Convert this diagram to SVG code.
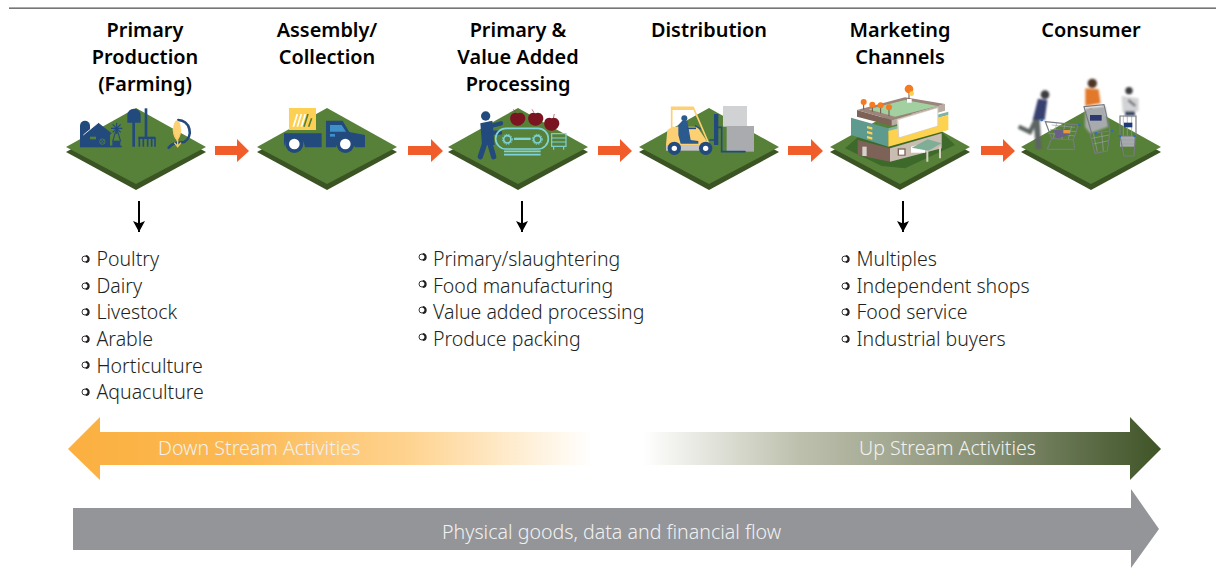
<svg xmlns="http://www.w3.org/2000/svg" width="1216" height="568" viewBox="0 0 1216 568">
<style>
text{font-family:"Noto Sans","Open Sans","Liberation Sans",sans-serif}
.t{font-size:19.900px;font-weight:600;fill:#000;text-anchor:middle}
.l{font-size:19.500px;font-weight:300;fill:#231f20}
.w{font-size:19.600px;font-weight:300;fill:#f1f1f1}
.b{fill:none;stroke:#231f20;stroke-width:.9}
.n{fill:#234a7d}
.ns{fill:none;stroke:#234a7d;stroke-linecap:round}
.c{fill:none;stroke:#7fd3da}
.cart{fill:none;stroke:#777b80;stroke-width:3.500}
.grid{fill:none;stroke:#9a9ea3;stroke-width:2}
</style>
<defs>
<g id="plate"><polygon points="0,5 70,43 140,5 70,-33" fill="#3a5424"/><polygon points="0,0 70,-39 140,0 70,37" fill="#578138"/></g>
<g id="bul"><circle r="3" class="b"/><path d="M.8,-3A3,3 0 0 1 .8,3" fill="none" stroke="#231f20" stroke-width="1.800"/></g>
<marker id="ah" markerUnits="userSpaceOnUse" markerWidth="14" markerHeight="14" refX="11" refY="6.500" orient="auto"><path d="M0,0.500L11,6.500L0,12.500L2.500,6.500Z" fill="#000"/></marker>
<linearGradient id="gd" x1="0" x2="1" y1="0" y2="0"><stop offset="0" stop-color="#fbb040"/><stop offset=".3" stop-color="#fcb851"/><stop offset=".65" stop-color="#fed38f"/><stop offset="1" stop-color="#fff"/></linearGradient>
<linearGradient id="gu" x1="0" x2="1" y1="0" y2="0"><stop offset="0" stop-color="#fff"/><stop offset=".3" stop-color="#bdc0ad"/><stop offset=".65" stop-color="#8a9277"/><stop offset="1" stop-color="#3f5427"/></linearGradient>
<filter id="blur" x="-20%" y="-20%" width="140%" height="140%"><feGaussianBlur stdDeviation="2.500"/></filter>
</defs>
<rect width="1216" height="568" fill="#fff"/>
<rect x="9" y="7.500" width="1207" height="1.300" fill="#555"/>

<g id="band-flow">
<polygon points="73,508 1131,508 1131,489 1159,529 1131,568 1131,550 73,550" fill="#939598"/>
<text class="w" x="442" y="539">Physical goods, data and financial flow</text>
</g>
<g id="band-down">
<polygon points="592,432 100,432 100,417 68,449 100,480 100,465 592,465" fill="url(#gd)"/>
<text class="w" x="158" y="455">Down Stream Activities</text>
</g>
<g id="band-up">
<polygon points="643,432 1130,432 1130,417 1161,449 1130,480 1130,465 643,465" fill="url(#gu)"/>
<text class="w" x="859" y="455">Up Stream Activities</text>
</g>

<g id="connectors">
<g fill="#f15d2a">
<polygon points="215,146 237,146 237,139 249,151 237,162 237,155 215,155"/>
<polygon points="408,146 431,146 431,139 443,151 431,162 431,155 408,155"/>
<polygon points="598,146 620,146 620,139 632,151 620,162 620,155 598,155"/>
<polygon points="788,146 811,146 811,139 823,151 811,162 811,155 788,155"/>
<polygon points="981,146 1003,146 1003,139 1015,151 1003,162 1003,155 981,155"/>
</g>
<g stroke="#000" stroke-width="2" marker-end="url(#ah)">
<path d="M139,201V232"/><path d="M522,201V232"/><path d="M903,201V232"/>
</g>
</g>

<g id="node-farming">
<text class="t" x="145" y="37">Primary</text><text class="t" x="145" y="64">Production</text><text class="t" x="145" y="91">(Farming)</text>
<use href="#plate" x="66" y="147"/>
<g transform="translate(75,100) scale(.3333)">
<path class="n" d="M15,140V77A15,15 0 0 1 45,77V140Z"/>
<polygon points="25,105 70,68 110,100 105,105 105,140 38,140 38,105" class="n"/>
<path d="M25,105L70,68" stroke="#fff" stroke-width="2.500"/>
<rect x="45" y="110" width="18" height="8" fill="#578138"/>
<circle cx="82" cy="125" r="8" fill="none" stroke="#578138" stroke-width="2.500"/><path d="M76,119L88,131M88,119L76,131" stroke="#578138" stroke-width="2"/>
<rect x="15" y="137" width="125" height="5" class="n"/>
<g stroke="#234a7d" stroke-width="3.500"><path d="M125,68V102M108,85H142M113,73L137,97M137,73L113,97"/><path d="M125,85L113,124M125,85L137,124" fill="none"/></g>
<rect x="112" y="122" width="24" height="18" class="n"/>
<path class="n" d="M157,68V46A20,20 0 0 1 197,46V68H180V140H172V68Z"/>
<rect x="209" y="25" width="8" height="90" class="n"/><rect x="190" y="110" width="50" height="7" class="n"/>
<path d="M193,112V140M205,112V140M218,112V140M230,112V140M240,112V140" stroke="#234a7d" stroke-width="5"/>
<path class="ns" stroke-width="8" d="M310,60A36,36 0 0 1 328,126C312,130 300,122 281,143"/>
<ellipse cx="306" cy="90" rx="12" ry="29" fill="#fdd073"/>
<path d="M290,82C296,96 300,105 306,118C312,105 318,96 322,82L315,105L306,125L297,105Z" fill="#fdc55a"/>
<path d="M308,118V142M298,128L308,140L318,128" stroke="#fdc55a" stroke-width="4" fill="none"/>
</g>
<use href="#bul" x="85" y="259"/><text class="l" x="96.500" y="266">Poultry</text>
<use href="#bul" x="85" y="286"/><text class="l" x="96.500" y="293">Dairy</text>
<use href="#bul" x="85" y="312"/><text class="l" x="96.500" y="319">Livestock</text>
<use href="#bul" x="85" y="339"/><text class="l" x="96.500" y="346">Arable</text>
<use href="#bul" x="85" y="365"/><text class="l" x="96.500" y="373">Horticulture</text>
<use href="#bul" x="85" y="392"/><text class="l" x="96.500" y="399">Aquaculture</text>
</g>

<g id="node-assembly">
<text class="t" x="327" y="37">Assembly/</text><text class="t" x="327" y="64">Collection</text>
<use href="#plate" x="257" y="147"/>
<g transform="translate(60,90) scale(.3333)">
<rect x="687" y="54" width="81" height="66" fill="#fdd053"/>
<g stroke="#fff" stroke-width="5"><path d="M700,110L712,72M712,110L724,72M724,110L736,72"/></g>
<g stroke="#578138" stroke-width="5"><path d="M732,110L744,72M746,110L755,85"/></g>
<path class="n" d="M672,130H785V172H735A30,30 0 0 0 672,172Z"/>
<path class="n" d="M798,92H848L868,126L915,135V172H885A30,30 0 0 0 827,172H798Z"/>
<polygon points="810,105 845,105 858,125 810,125" fill="#3f8fc9"/><rect x="810" y="132" width="15" height="8" fill="#3f8fc9"/>
<circle cx="703" cy="162" r="27" class="n"/><circle cx="703" cy="162" r="16" fill="#fff"/>
<circle cx="856" cy="162" r="27" class="n"/><circle cx="856" cy="162" r="16" fill="#fff"/>
</g>
</g>

<g id="node-processing">
<text class="t" x="518" y="37">Primary &amp;</text><text class="t" x="518" y="64">Value Added</text><text class="t" x="518" y="91">Processing</text>
<use href="#plate" x="448" y="147"/>
<g transform="translate(400,90) scale(.3333)">
<circle cx="257" cy="78" r="14" class="n"/>
<polygon points="241,100 277,92 284,165 246,165" class="n"/>
<path class="ns" stroke-width="13" d="M272,108L303,100M272,128L300,128"/>
<path class="ns" stroke-width="16" d="M256,155L241,200M268,155L281,200"/>
<rect x="287" y="115" width="158" height="62" rx="31" class="c" stroke-width="5"/>
<g class="c" stroke-width="5"><circle cx="322" cy="148" r="11"/><circle cx="412" cy="148" r="11"/></g>
<circle cx="322" cy="148" r="15" class="c" stroke-width="3" stroke-dasharray="4 4"/><circle cx="412" cy="148" r="15" class="c" stroke-width="3" stroke-dasharray="4 4"/>
<rect x="342" y="143" width="50" height="7" fill="#7fd3da"/>
<path d="M312,184H422M312,194H422" stroke="#7fd3da" stroke-width="5"/>
<g class="c" stroke-width="3.500"><rect x="455" y="131" width="43" height="38"/><path d="M455,144H498M455,156H498M461,169V179M491,169V179"/></g>
<g fill="#7a1420"><path d="M353,70C340,64 328,75 331,90C334,102 344,108 353,107C362,108 373,100 376,88C378,74 364,64 353,70Z"/><path d="M407,70C394,64 382,75 385,90C388,102 398,108 407,107C416,108 427,100 430,88C432,74 418,64 407,70Z"/><path d="M455,85C442,79 430,90 433,105C436,117 446,123 455,122C464,123 475,115 478,103C480,89 466,79 455,85Z"/></g>
<path d="M348,68L340,58M402,68L396,58M460,85L463,72" stroke="#a3343f" stroke-width="2" fill="none"/>
</g>
<use href="#bul" x="422" y="257"/><text class="l" x="433" y="266">Primary/slaughtering</text>
<use href="#bul" x="422" y="284"/><text class="l" x="433" y="293">Food manufacturing</text>
<use href="#bul" x="422" y="310"/><text class="l" x="433" y="319">Value added processing</text>
<use href="#bul" x="422" y="337"/><text class="l" x="433" y="346">Produce packing</text>
</g>

<g id="node-distribution">
<text class="t" x="709" y="37">Distribution</text>
<use href="#plate" x="639" y="147"/>
<g transform="translate(660,95) scale(.3333)">
<rect x="189" y="33" width="72" height="62" fill="#d1d2d4"/>
<rect x="200" y="93" width="82" height="77" fill="#a9abae"/>
<polygon points="18,150 22,105 37,95 112,95 148,150" fill="#fdd073"/>
<path d="M35,100V38H100L148,150" fill="none" stroke="#fdd073" stroke-width="5"/><rect x="33" y="35" width="67" height="10" fill="#fdd073"/>
<rect x="18" y="150" width="132" height="17" fill="#c4c5c7"/>
<polygon points="55,90 66,78 82,78 92,135 115,138 115,146 62,146 55,120" fill="#2b5a8f"/><circle cx="73" cy="70" r="9" fill="#2b5a8f"/>
<path d="M82,100L108,100" stroke="#234a7d" stroke-width="5"/>
<path d="M105,92L122,102" stroke="#234a7d" stroke-width="4"/>
<rect x="162" y="57" width="13" height="93" class="n"/>
<path class="ns" stroke-width="5" d="M150,135H162M175,97H185V170H255"/>
<circle cx="43" cy="160" r="20" class="n"/><circle cx="43" cy="160" r="8" fill="#fff"/>
<circle cx="137" cy="160" r="20" class="n"/><circle cx="137" cy="160" r="8" fill="#fff"/>
</g>
</g>

<g id="node-channels">
<text class="t" x="900" y="37">Marketing</text><text class="t" x="900" y="64">Channels</text>
<use href="#plate" x="830" y="147"/>
<g transform="translate(845,80) scale(.3333)">
<polygon points="0,205 40,170 290,155 330,195 180,265 110,258" fill="#3d6a2b"/>
<polygon points="38,180 135,205 135,245 38,225" fill="#7d6258"/>
<polygon points="135,205 290,160 290,205 135,245" fill="#c9bdb2"/>
<rect x="52" y="200" width="13" height="28" fill="#d9d2cb"/>
<rect x="158" y="205" width="24" height="22" fill="#7d6258"/><rect x="162" y="209" width="16" height="15" fill="#fff"/>
<polygon points="198,200 240,188 240,218 198,218" fill="#fff"/>
<polygon points="18,113 130,145 130,200 18,165" fill="#5f9a8f"/>
<polygon points="130,145 310,95 310,105 130,155" fill="#7fb3a3"/>
<polygon points="130,153 310,105 310,150 130,200" fill="#fdd24e"/>
<polygon points="36,90 140,120 140,137 36,110" fill="#7d6258"/>
<polygon points="140,120 300,72 300,92 140,137" fill="#b9aca2"/>
<polygon points="36,90 180,52 300,72 140,120" fill="#9b847a"/>
<polygon points="70,88 180,60 278,78 150,110" fill="#a3d0a0"/>
<polygon points="155,118 280,82 280,138 160,175" fill="#d8d0c6"/>
<polygon points="160,120 277,85 277,137 163,172" fill="#fff"/>
<g fill="#fdd24e"><polygon points="66,138 82,142 82,149 66,145"/><polygon points="66,153 82,157 82,164 66,160"/><polygon points="66,168 82,172 82,179 66,175"/></g>
<polygon points="200,203 248,178 290,190 250,212" fill="#7fae96"/>
<path d="M247,212V245M285,200V235" stroke="#d8d0c6" stroke-width="6"/>
<path d="M56,66V88M82,74V95M107,76V100M132,82V108M192,27V60" stroke="#6b5046" stroke-width="3"/>
<g fill="#f47b20"><circle cx="56" cy="66" r="9"/><circle cx="82" cy="74" r="9"/><circle cx="107" cy="76" r="9"/><circle cx="132" cy="82" r="9"/><circle cx="192" cy="27" r="13"/></g>
<circle cx="200" cy="41" r="7" fill="#fdd24e"/><rect x="186" y="57" width="14" height="11" fill="#fff"/>
</g>
<use href="#bul" x="845" y="259"/><text class="l" x="856.500" y="266">Multiples</text>
<use href="#bul" x="845" y="286"/><text class="l" x="856.500" y="293">Independent shops</text>
<use href="#bul" x="845" y="312"/><text class="l" x="856.500" y="319">Food service</text>
<use href="#bul" x="845" y="339"/><text class="l" x="856.500" y="346">Industrial buyers</text>
</g>

<g id="node-consumer">
<text class="t" x="1091" y="37">Consumer</text>
<use href="#plate" x="1021" y="147"/>
<g transform="translate(1010,70) scale(.3333)">
<g filter="url(#blur)">
<circle cx="105" cy="74" r="13" fill="#3c3c40"/>
<polygon points="84,86 112,90 104,150 68,150" fill="#37406f"/>
<path d="M80,150L86,238" stroke="#5d6563" stroke-width="18" fill="none"/>
<path d="M76,152L60,186L26,170" stroke="#5d6563" stroke-width="13" fill="none"/>
<circle cx="247" cy="40" r="14" fill="#4d3428"/>
<polygon points="226,55 266,58 272,100 226,108" fill="#e2782c"/>
<circle cx="357" cy="62" r="11" fill="#3c3c40"/>
<polygon points="335,78 386,85 386,124 338,128" fill="#d2d3d5"/>
<path d="M355,90L376,108" stroke="#777" stroke-width="8"/>
<rect x="345" y="124" width="30" height="13" fill="#33415f"/>
</g>
<path class="grid" d="M125,165L195,172M120,178L200,185M115,190L195,198M140,160L130,205M165,163L155,208M185,168L175,208"/>
<path class="cart" d="M106,155L205,165L190,210L125,205Z M125,205L112,238M190,210L194,235M112,238H194"/>
<polygon points="130,180 175,178 180,195 140,205" fill="#6a5f86"/><rect x="160" y="180" width="20" height="10" fill="#e29a3c"/>
<polygon points="225,115 285,108 295,170 240,190 225,170" fill="#a8abae" filter="url(#blur)"/>
<rect x="240" y="135" width="35" height="17" fill="#2d3870"/>
<path class="grid" d="M245,205L298,195M250,222L296,212M250,190L262,245M275,187L280,243"/>
<path class="cart" d="M222,110L282,104L300,183L245,190ZM240,190L255,250M300,183L292,243M255,250L292,243"/>
<rect x="330" y="198" width="45" height="32" fill="#a8abae"/>
<path class="grid" d="M330,210H376M332,222H375M340,138V198M352,138V198M365,138V198"/>
<path class="cart" d="M330,138H378V198H330ZM330,198L342,258M376,198L372,258M342,258H372"/>
<rect x="342" y="158" width="25" height="14" fill="#1f3a78"/>
<g fill="#2a6fc0"><circle cx="95" cy="150" r="4"/><circle cx="208" cy="165" r="4"/><circle cx="258" cy="190" r="4"/><circle cx="306" cy="183" r="4"/><circle cx="330" cy="198" r="4"/><circle cx="374" cy="198" r="4"/></g>
</g>
</g>
</svg>
